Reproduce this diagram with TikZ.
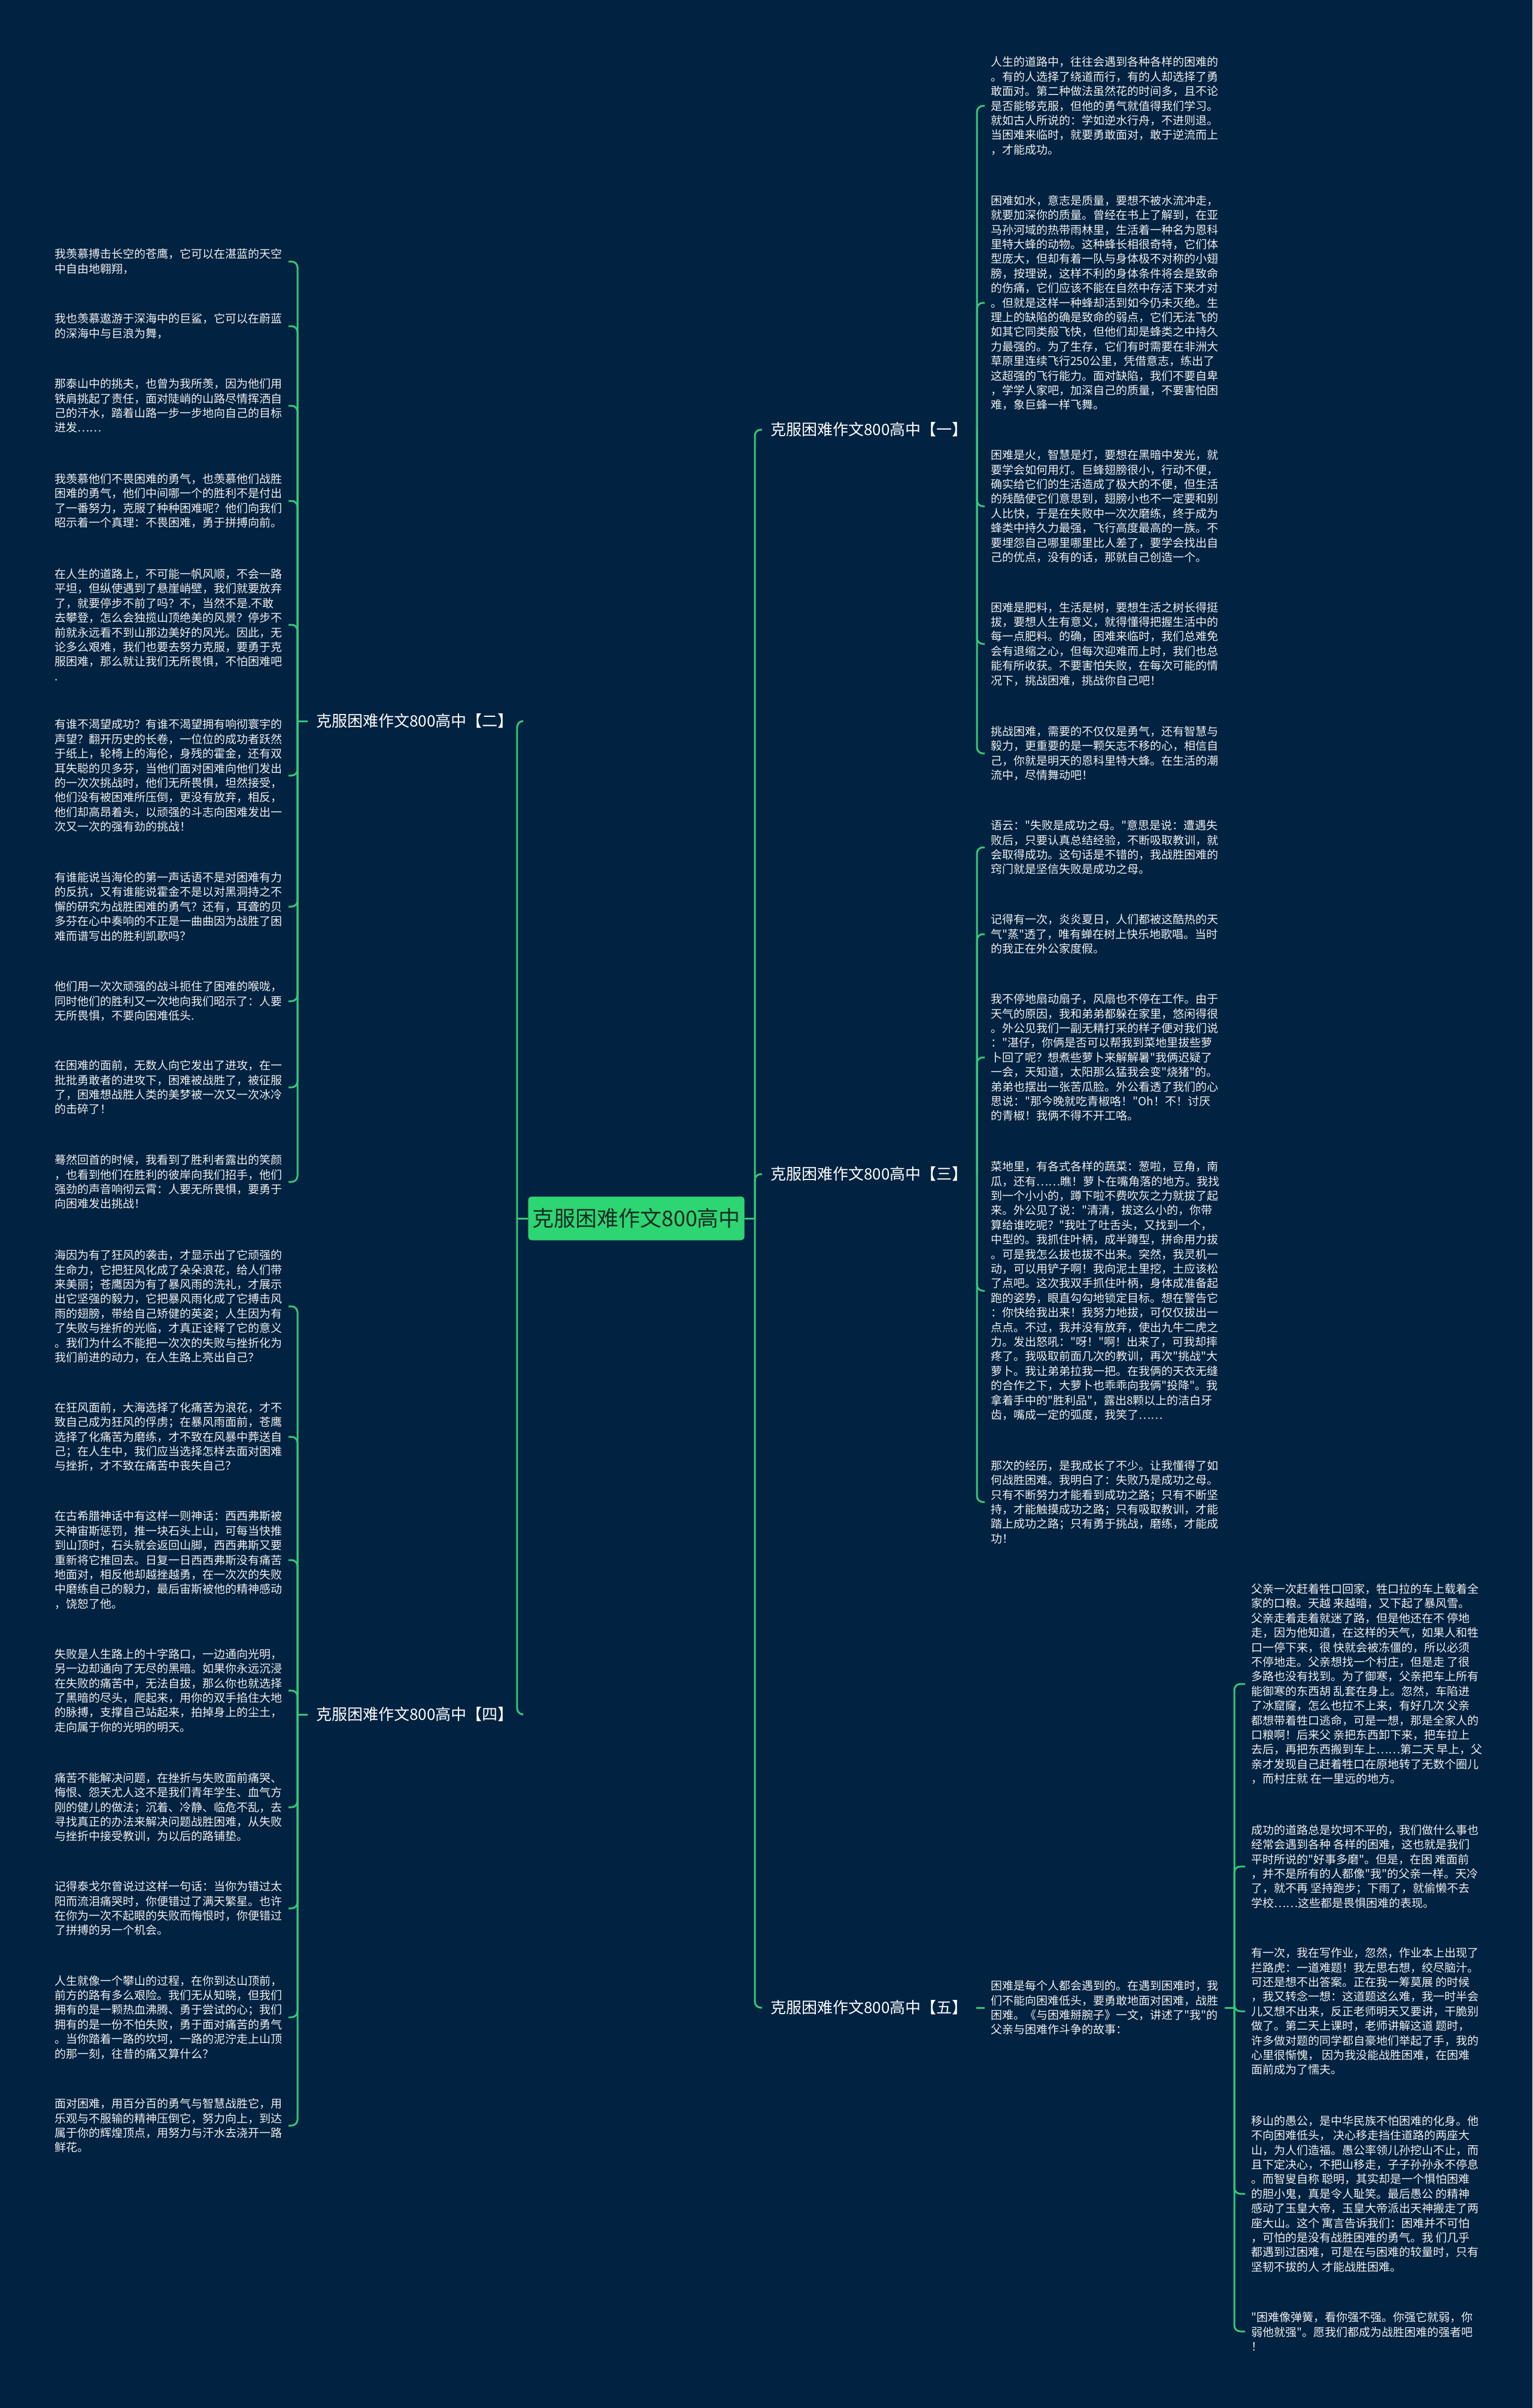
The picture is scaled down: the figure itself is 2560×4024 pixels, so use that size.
\documentclass[tikz,border=0pt]{standalone}
\usepackage{fontspec}
\newfontfamily\cjk{Noto Sans CJK SC}
\usetikzlibrary{positioning}
\definecolor{NightBlue}{RGB}{1,34,64}
\definecolor{LinkGreen}{RGB}{52,200,120}
\definecolor{HubGreen}{RGB}{46,213,115}
\definecolor{HubText}{RGB}{22,44,36}
\tikzset{
  hub/.style={rectangle,fill=HubGreen,rounded corners=3pt,text=HubText,
    font={\cjk\fontsize{18pt}{22pt}\selectfont},minimum width=175pt,minimum height=36.5pt},
  topic/.style={text=white,inner xsep=7pt,inner ysep=2pt,font={\cjk\fontsize{13pt}{16pt}\selectfont}},
  para/.style={text=white!94!black,align=left,inner xsep=5pt,inner ysep=0pt,
    font={\cjk\fontsize{9.5pt}{12.2pt}\selectfont}},
}
\tikzset{link/.style={draw=LinkGreen,line width=1.5pt,rounded corners=5pt}}
\begin{document}
\begin{tikzpicture}[x=0.5pt,y=-0.5pt]
\fill[NightBlue] (0,0) rectangle (2560,4024);
% hub and main topics
\node[hub] (c) at (1063,2036) {克服困难作文800高中};
\coordinate[left=9pt of c] (cl);
\coordinate[right=8.5pt of c] (cr);
\node[topic,anchor=west] (b1) at (1273,718) {克服困难作文800高中【一】};
\node[topic,anchor=west] (b2) at (514,1205) {克服困难作文800高中【二】};
\node[topic,anchor=west] (b3) at (1273,1962) {克服困难作文800高中【三】};
\node[topic,anchor=west] (b4) at (514,2865) {克服困难作文800高中【四】};
\node[topic,anchor=west] (b5) at (1273,3355) {克服困难作文800高中【五】};
\coordinate (s1) at (1632,718);
\coordinate (s2) at (497,1205);
\coordinate (s3) at (1632,1962);
\coordinate (s4) at (497,2865);
\draw[link] (c.west) -- (cl);
\draw[link] (c.east) -- (cr);
\draw[link] (cl) |- (b2.east);
\draw[link] (cl) |- (b4.east);
\draw[link] (cr) |- (b1.west);
\draw[link] (cr) |- (b3.west);
\draw[link] (cr) |- (b5.west);
\draw[link] (b1.east) -- (s1);
\draw[link] (b2.west) -- (s2);
\draw[link] (b3.east) -- (s3);
\draw[link] (b4.west) -- (s4);
% topic 1
\node[para,anchor=west] (l1a) at (1645,177) {人生的道路中，往往会遇到各种各样的困难的\\
。有的人选择了绕道而行，有的人却选择了勇\\
敢面对。第二种做法虽然花的时间多，且不论\\
是否能够克服，但他的勇气就值得我们学习。\\
就如古人所说的：学如逆水行舟，不进则退。\\
当困难来临时，就要勇敢面对，敢于逆流而上\\
，才能成功。};
\node[para,anchor=west] (l1b) at (1645,506) {困难如水，意志是质量，要想不被水流冲走，\\
就要加深你的质量。曾经在书上了解到，在亚\\
马孙河域的热带雨林里，生活着一种名为恩科\\
里特大蜂的动物。这种蜂长相很奇特，它们体\\
型庞大，但却有着一队与身体极不对称的小翅\\
膀，按理说，这样不利的身体条件将会是致命\\
的伤痛，它们应该不能在自然中存活下来才对\\
。但就是这样一种蜂却活到如今仍未灭绝。生\\
理上的缺陷的确是致命的弱点，它们无法飞的\\
如其它同类般飞快，但他们却是蜂类之中持久\\
力最强的。为了生存，它们有时需要在非洲大\\
草原里连续飞行250公里，凭借意志，练出了\\
这超强的飞行能力。面对缺陷，我们不要自卑\\
，学学人家吧，加深自己的质量，不要害怕困\\
难，象巨蜂一样飞舞。};
\node[para,anchor=west] (l1c) at (1645,846) {困难是火，智慧是灯，要想在黑暗中发光，就\\
要学会如何用灯。巨蜂翅膀很小，行动不便，\\
确实给它们的生活造成了极大的不便，但生活\\
的残酷使它们意思到，翅膀小也不一定要和别\\
人比快，于是在失败中一次次磨练，终于成为\\
蜂类中持久力最强，飞行高度最高的一族。不\\
要埋怨自己哪里哪里比人差了，要学会找出自\\
己的优点，没有的话，那就自己创造一个。};
\node[para,anchor=west] (l1d) at (1645,1076) {困难是肥料，生活是树，要想生活之树长得挺\\
拔，要想人生有意义，就得懂得把握生活中的\\
每一点肥料。的确，困难来临时，我们总难免\\
会有退缩之心，但每次迎难而上时，我们也总\\
能有所收获。不要害怕失败，在每次可能的情\\
况下，挑战困难，挑战你自己吧！};
\node[para,anchor=west] (l1e) at (1645,1259) {挑战困难，需要的不仅仅是勇气，还有智慧与\\
毅力，更重要的是一颗矢志不移的心，相信自\\
己，你就是明天的恩科里特大蜂。在生活的潮\\
流中，尽情舞动吧！};
\draw[link] (s1) |- (l1a.west);
\draw[link] (s1) |- (l1b.west);
\draw[link] (s1) |- (l1c.west);
\draw[link] (s1) |- (l1d.west);
\draw[link] (s1) |- (l1e.west);
% topic 2
\node[para,anchor=west] (l2a) at (81,437) {我羡慕搏击长空的苍鹰，它可以在湛蓝的天空\\
中自由地翱翔，};
\node[para,anchor=west] (l2b) at (81,545) {我也羡慕遨游于深海中的巨鲨，它可以在蔚蓝\\
的深海中与巨浪为舞，};
\node[para,anchor=west] (l2c) at (81,678) {那泰山中的挑夫，也曾为我所羡，因为他们用\\
铁肩挑起了责任，面对陡峭的山路尽情挥洒自\\
己的汗水，踏着山路一步一步地向自己的目标\\
进发……};
\node[para,anchor=west] (l2d) at (81,837) {我羡慕他们不畏困难的勇气，也羡慕他们战胜\\
困难的勇气，他们中间哪一个的胜利不是付出\\
了一番努力，克服了种种困难呢？他们向我们\\
昭示着一个真理：不畏困难，勇于拼搏向前。};
\node[para,anchor=west] (l2e) at (81,1044) {在人生的道路上，不可能一帆风顺，不会一路\\
平坦，但纵使遇到了悬崖峭壁，我们就要放弃\\
了，就要停步不前了吗？不，当然不是.不敢\\
去攀登，怎么会独揽山顶绝美的风景？停步不\\
前就永远看不到山那边美好的风光。因此，无\\
论多么艰难，我们也要去努力克服，要勇于克\\
服困难，那么就让我们无所畏惧，不怕困难吧\\
.};
\node[para,anchor=west] (l2f) at (81,1296) {有谁不渴望成功？有谁不渴望拥有响彻寰宇的\\
声望？翻开历史的长卷，一位位的成功者跃然\\
于纸上，轮椅上的海伦，身残的霍金，还有双\\
耳失聪的贝多芬，当他们面对困难向他们发出\\
的一次次挑战时，他们无所畏惧，坦然接受，\\
他们没有被困难所压倒，更没有放弃，相反，\\
他们却高昂着头，以顽强的斗志向困难发出一\\
次又一次的强有劲的挑战！};
\node[para,anchor=west] (l2g) at (81,1515) {有谁能说当海伦的第一声话语不是对困难有力\\
的反抗，又有谁能说霍金不是以对黑洞持之不\\
懈的研究为战胜困难的勇气？还有，耳聋的贝\\
多芬在心中奏响的不正是一曲曲因为战胜了困\\
难而谱写出的胜利凯歌吗？};
\node[para,anchor=west] (l2h) at (81,1673) {他们用一次次顽强的战斗扼住了困难的喉咙，\\
同时他们的胜利又一次地向我们昭示了：人要\\
无所畏惧，不要向困难低头.};
\node[para,anchor=west] (l2i) at (81,1817) {在困难的面前，无数人向它发出了进攻，在一\\
批批勇敢者的进攻下，困难被战胜了，被征服\\
了，困难想战胜人类的美梦被一次又一次冰冷\\
的击碎了！};
\node[para,anchor=west] (l2j) at (81,1975) {蓦然回首的时候，我看到了胜利者露出的笑颜\\
，也看到他们在胜利的彼岸向我们招手，他们\\
强劲的声音响彻云霄：人要无所畏惧，要勇于\\
向困难发出挑战！};
\draw[link] (s2) |- (l2a.east);
\draw[link] (s2) |- (l2b.east);
\draw[link] (s2) |- (l2c.east);
\draw[link] (s2) |- (l2d.east);
\draw[link] (s2) |- (l2e.east);
\draw[link] (s2) |- (l2f.east);
\draw[link] (s2) |- (l2g.east);
\draw[link] (s2) |- (l2h.east);
\draw[link] (s2) |- (l2i.east);
\draw[link] (s2) |- (l2j.east);
% topic 3
\node[para,anchor=west] (l3a) at (1645,1416) {语云："失败是成功之母。"意思是说：遭遇失\\
败后，只要认真总结经验，不断吸取教训，就\\
会取得成功。这句话是不错的，我战胜困难的\\
窍门就是坚信失败是成功之母。};
\node[para,anchor=west] (l3b) at (1645,1561) {记得有一次，炎炎夏日，人们都被这酷热的天\\
气"蒸"透了，唯有蝉在树上快乐地歌唱。当时\\
的我正在外公家度假。};
\node[para,anchor=west] (l3c) at (1645,1767) {我不停地扇动扇子，风扇也不停在工作。由于\\
天气的原因，我和弟弟都躲在家里，悠闲得很\\
。外公见我们一副无精打采的样子便对我们说\\
："湛仔，你俩是否可以帮我到菜地里拔些萝\\
卜回了呢？想煮些萝卜来解解暑"我俩迟疑了\\
一会，天知道，太阳那么猛我会变"烧猪"的。\\
弟弟也摆出一张苦瓜脸。外公看透了我们的心\\
思说："那今晚就吃青椒咯！"Oh！不！讨厌\\
的青椒！我俩不得不开工咯。};
\node[para,anchor=west] (l3d) at (1645,2157) {菜地里，有各式各样的蔬菜：葱啦，豆角，南\\
瓜，还有……瞧！萝卜在嘴角落的地方。我找\\
到一个小小的，蹲下啦不费吹灰之力就拔了起\\
来。外公见了说："清清，拔这么小的，你带\\
算给谁吃呢？"我吐了吐舌头，又找到一个，\\
中型的。我抓住叶柄，成半蹲型，拼命用力拔\\
。可是我怎么拔也拔不出来。突然，我灵机一\\
动，可以用铲子啊！我向泥土里挖，土应该松\\
了点吧。这次我双手抓住叶柄，身体成准备起\\
跑的姿势，眼直勾勾地锁定目标。想在警告它\\
：你快给我出来！我努力地拔，可仅仅拔出一\\
点点。不过，我并没有放弃，使出九牛二虎之\\
力。发出怒吼："呀！"啊！出来了，可我却摔\\
疼了。我吸取前面几次的教训，再次"挑战"大\\
萝卜。我让弟弟拉我一把。在我俩的天衣无缝\\
的合作之下，大萝卜也乖乖向我俩"投降"。我\\
拿着手中的"胜利品"，露出8颗以上的洁白牙\\
齿，嘴成一定的弧度，我笑了……};
\node[para,anchor=west] (l3e) at (1645,2510) {那次的经历，是我成长了不少。让我懂得了如\\
何战胜困难。我明白了：失败乃是成功之母。\\
只有不断努力才能看到成功之路；只有不断坚\\
持，才能触摸成功之路；只有吸取教训，才能\\
踏上成功之路；只有勇于挑战，磨练，才能成\\
功！};
\draw[link] (s3) |- (l3a.west);
\draw[link] (s3) |- (l3b.west);
\draw[link] (s3) |- (l3c.west);
\draw[link] (s3) |- (l3d.west);
\draw[link] (s3) |- (l3e.west);
% topic 4
\node[para,anchor=west] (l4a) at (81,2183) {海因为有了狂风的袭击，才显示出了它顽强的\\
生命力，它把狂风化成了朵朵浪花，给人们带\\
来美丽；苍鹰因为有了暴风雨的洗礼，才展示\\
出它坚强的毅力，它把暴风雨化成了它搏击风\\
雨的翅膀，带给自己矫健的英姿；人生因为有\\
了失败与挫折的光临，才真正诠释了它的意义\\
。我们为什么不能把一次次的失败与挫折化为\\
我们前进的动力，在人生路上亮出自己？};
\node[para,anchor=west] (l4b) at (81,2401) {在狂风面前，大海选择了化痛苦为浪花，才不\\
致自己成为狂风的俘虏；在暴风雨面前，苍鹰\\
选择了化痛苦为磨练，才不致在风暴中葬送自\\
己；在人生中，我们应当选择怎样去面对困难\\
与挫折，才不致在痛苦中丧失自己？};
\node[para,anchor=west] (l4c) at (81,2607) {在古希腊神话中有这样一则神话：西西弗斯被\\
天神宙斯惩罚，推一块石头上山，可每当快推\\
到山顶时，石头就会返回山脚，西西弗斯又要\\
重新将它推回去。日复一日西西弗斯没有痛苦\\
地面对，相反他却越挫越勇，在一次次的失败\\
中磨练自己的毅力，最后宙斯被他的精神感动\\
，饶恕了他。};
\node[para,anchor=west] (l4d) at (81,2825) {失败是人生路上的十字路口，一边通向光明，\\
另一边却通向了无尽的黑暗。如果你永远沉浸\\
在失败的痛苦中，无法自拔，那么你也就选择\\
了黑暗的尽头，爬起来，用你的双手掐住大地\\
的脉搏，支撑自己站起来，拍掉身上的尘土，\\
走向属于你的光明的明天。};
\node[para,anchor=west] (l4e) at (81,3020) {痛苦不能解决问题，在挫折与失败面前痛哭、\\
悔恨、怨天尤人这不是我们青年学生、血气方\\
刚的健儿的做法；沉着、冷静、临危不乱，去\\
寻找真正的办法来解决问题战胜困难，从失败\\
与挫折中接受教训，为以后的路铺垫。};
\node[para,anchor=west] (l4f) at (81,3189) {记得泰戈尔曾说过这样一句话：当你为错过太\\
阳而流泪痛哭时，你便错过了满天繁星。也许\\
在你为一次不起眼的失败而悔恨时，你便错过\\
了拼搏的另一个机会。};
\node[para,anchor=west] (l4g) at (81,3371) {人生就像一个攀山的过程，在你到达山顶前，\\
前方的路有多么艰险。我们无从知晓，但我们\\
拥有的是一颗热血沸腾、勇于尝试的心；我们\\
拥有的是一份不怕失败，勇于面对痛苦的勇气\\
。当你踏着一路的坎坷，一路的泥泞走上山顶\\
的那一刻，往昔的痛又算什么？};
\node[para,anchor=west] (l4h) at (81,3552) {面对困难，用百分百的勇气与智慧战胜它，用\\
乐观与不服输的精神压倒它，努力向上，到达\\
属于你的辉煌顶点，用努力与汗水去浇开一路\\
鲜花。};
\draw[link] (s4) |- (l4a.east);
\draw[link] (s4) |- (l4b.east);
\draw[link] (s4) |- (l4c.east);
\draw[link] (s4) |- (l4d.east);
\draw[link] (s4) |- (l4e.east);
\draw[link] (s4) |- (l4f.east);
\draw[link] (s4) |- (l4g.east);
\draw[link] (s4) |- (l4h.east);
% topic 5
\node[para,anchor=west] (l5) at (1645,3355) {困难是每个人都会遇到的。在遇到困难时，我\\
们不能向困难低头，要勇敢地面对困难，战胜\\
困难。《与困难掰腕子》一文，讲述了"我"的\\
父亲与困难作斗争的故事：};
\draw[link] (b5.east) -- (l5.west);
\coordinate (s5) at (2062,3355);
\draw[link] (l5.east) -- (s5);
\node[para,anchor=west] (l5a) at (2080,2814) {父亲一次赶着牲口回家，牲口拉的车上载着全\\
家的口粮。天越 来越暗，又下起了暴风雪。\\
父亲走着走着就迷了路，但是他还在不 停地\\
走，因为他知道，在这样的天气，如果人和牲\\
口一停下来，很 快就会被冻僵的，所以必须\\
不停地走。父亲想找一个村庄，但是走 了很\\
多路也没有找到。为了御寒，父亲把车上所有\\
能御寒的东西胡 乱套在身上。忽然，车陷进\\
了冰窟窿，怎么也拉不上来，有好几次 父亲\\
都想带着牲口逃命，可是一想，那是全家人的\\
口粮啊！后来父 亲把东西卸下来，把车拉上\\
去后，再把东西搬到车上……第二天 早上，父\\
亲才发现自己赶着牲口在原地转了无数个圈儿\\
，而村庄就 在一里远的地方。};
\node[para,anchor=west] (l5b) at (2080,3119) {成功的道路总是坎坷不平的，我们做什么事也\\
经常会遇到各种 各样的困难，这也就是我们\\
平时所说的"好事多磨"。但是，在困 难面前\\
，并不是所有的人都像"我"的父亲一样。天冷\\
了，就不再 坚持跑步；下雨了，就偷懒不去\\
学校……这些都是畏惧困难的表现。};
\node[para,anchor=west] (l5c) at (2080,3361) {有一次，我在写作业，忽然，作业本上出现了\\
拦路虎：一道难题！我左思右想，绞尽脑汁。\\
可还是想不出答案。正在我一筹莫展 的时候\\
，我又转念一想：这道题这么难，我一时半会\\
儿又想不出来，反正老师明天又要讲，干脆别\\
做了。第二天上课时，老师讲解这道 题时，\\
许多做对题的同学都自豪地们举起了手，我的\\
心里很惭愧， 因为我没能战胜困难，在困难\\
面前成为了懦夫。};
\node[para,anchor=west] (l5d) at (2080,3666) {移山的愚公，是中华民族不怕困难的化身。他\\
不向困难低头， 决心移走挡住道路的两座大\\
山，为人们造福。愚公率领儿孙挖山不止，而\\
且下定决心，不把山移走，子子孙孙永不停息\\
。而智叟自称 聪明，其实却是一个惧怕困难\\
的胆小鬼，真是令人耻笑。最后愚公 的精神\\
感动了玉皇大帝，玉皇大帝派出天神搬走了两\\
座大山。这个 寓言告诉我们：困难并不可怕\\
，可怕的是没有战胜困难的勇气。我 们几乎\\
都遇到过困难，可是在与困难的较量时，只有\\
坚韧不拔的人 才能战胜困难。};
\node[para,anchor=west] (l5e) at (2080,3896) {"困难像弹簧，看你强不强。你强它就弱，你\\
弱他就强"。愿我们都成为战胜困难的强者吧\\
！};
\draw[link] (s5) |- (l5a.west);
\draw[link] (s5) |- (l5b.west);
\draw[link] (s5) |- (l5c.west);
\draw[link] (s5) |- (l5d.west);
\draw[link] (s5) |- (l5e.west);
\end{tikzpicture}
\end{document}
